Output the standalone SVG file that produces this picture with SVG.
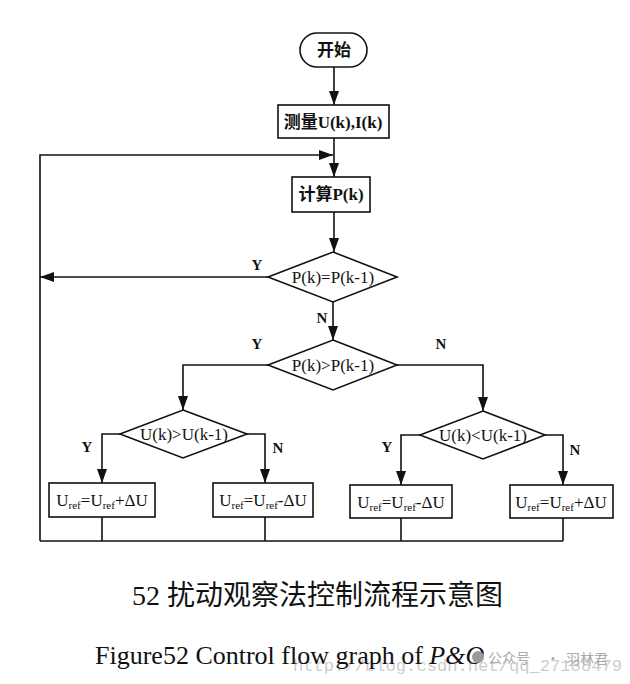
<svg xmlns="http://www.w3.org/2000/svg" width="630" height="684" viewBox="0 0 630 684">
<style>
.shape{fill:#fff;stroke:#111;stroke-width:1.6}
.conn{fill:none;stroke:#111;stroke-width:1.6}
.t{font-family:"Liberation Serif","Noto Sans CJK SC",serif;font-size:17px;fill:#111;text-anchor:middle}
.b{font-weight:bold}
.lbl{font-family:"Liberation Serif",serif;font-size:15px;font-weight:bold;fill:#111;text-anchor:middle}
.wm{font-family:"Liberation Mono","Noto Sans CJK SC",monospace;font-size:16px;fill:#cdcdcd}
.wmc{font-family:"Noto Sans CJK SC",sans-serif;font-size:14px;fill:#aaa}
</style>
<defs>
<marker id="ah" markerUnits="userSpaceOnUse" markerWidth="14" markerHeight="10" viewBox="0 0 14 10" refX="14" refY="5" orient="auto">
<path d="M0,0 L14,5 L0,10 Z" fill="#111"/>
</marker>
</defs>
<rect width="630" height="684" fill="#fff"/>

<g id="connectors">
<path class="conn" d="M334,67 V105" marker-end="url(#ah)"/>
<path class="conn" d="M334,138 V177" marker-end="url(#ah)"/>
<path class="conn" d="M40,541 V155 H333" marker-end="url(#ah)"/>
<path class="conn" d="M334,212 V252" marker-end="url(#ah)"/>
<path class="conn" d="M268,277 H40" marker-end="url(#ah)"/>
<path class="conn" d="M333,302 V340" marker-end="url(#ah)"/>
<path class="conn" d="M268,365 H183 V410" marker-end="url(#ah)"/>
<path class="conn" d="M397,365 H483 V411" marker-end="url(#ah)"/>
<path class="conn" d="M120,434 H102 V483" marker-end="url(#ah)"/>
<path class="conn" d="M247,434 H265 V483" marker-end="url(#ah)"/>
<path class="conn" d="M420,435 H401 V485" marker-end="url(#ah)"/>
<path class="conn" d="M545,435 H563 V485" marker-end="url(#ah)"/>
<path class="conn" d="M102,517 V541 M265,517 V541 M401,518 V541 M563,518 V541 M40,541 H563"/>
<text class="lbl" x="257" y="270">Y</text>
<text class="lbl" x="322" y="323">N</text>
<text class="lbl" x="257" y="349">Y</text>
<text class="lbl" x="441" y="349">N</text>
<text class="lbl" x="87" y="452">Y</text>
<text class="lbl" x="278" y="453">N</text>
<text class="lbl" x="387" y="452">Y</text>
<text class="lbl" x="575" y="455">N</text>
</g>

<g id="start">
<rect class="shape" x="300" y="33" width="67" height="34" rx="17" ry="17"/>
<text class="t b" x="334" y="56" font-size="15">开始</text>
</g>
<g id="measure">
<rect class="shape" x="278" y="105" width="111" height="33"/>
<text class="t b" x="333" y="128" font-size="15">测量U(k),I(k)</text>
</g>
<g id="calc">
<rect class="shape" x="292" y="177" width="78" height="35"/>
<text class="t b" x="331" y="200" font-size="15">计算P(k)</text>
</g>
<g id="d1">
<polygon class="shape" points="333,252 397,277 333,302 268,277"/>
<text class="t" x="333" y="283">P(k)=P(k-1)</text>
</g>
<g id="d2">
<polygon class="shape" points="333,340 397,365 333,390 268,365"/>
<text class="t" x="333" y="371">P(k)&gt;P(k-1)</text>
</g>
<g id="d3">
<polygon class="shape" points="183,410 247,434 183,458 120,434"/>
<text class="t" x="184" y="440">U(k)&gt;U(k-1)</text>
</g>
<g id="d4">
<polygon class="shape" points="483,411 545,435 483,459 420,435"/>
<text class="t" x="483" y="441">U(k)&lt;U(k-1)</text>
</g>
<g id="box3">
<rect class="shape" x="49" y="483" width="106" height="34"/>
<text class="t" x="102" y="506">U<tspan font-size="11" dy="3">ref</tspan><tspan dy="-3">=U</tspan><tspan font-size="11" dy="3">ref</tspan><tspan dy="-3">+ΔU</tspan></text>
</g>
<g id="box4">
<rect class="shape" x="213" y="483" width="100" height="34"/>
<text class="t" x="263" y="506">U<tspan font-size="11" dy="3">ref</tspan><tspan dy="-3">=U</tspan><tspan font-size="11" dy="3">ref</tspan><tspan dy="-3">-ΔU</tspan></text>
</g>
<g id="box5">
<rect class="shape" x="350" y="485" width="102" height="33"/>
<text class="t" x="401" y="508">U<tspan font-size="11" dy="3">ref</tspan><tspan dy="-3">=U</tspan><tspan font-size="11" dy="3">ref</tspan><tspan dy="-3">-ΔU</tspan></text>
</g>
<g id="box6">
<rect class="shape" x="510" y="485" width="103" height="33"/>
<text class="t" x="561" y="508">U<tspan font-size="11" dy="3">ref</tspan><tspan dy="-3">=U</tspan><tspan font-size="11" dy="3">ref</tspan><tspan dy="-3">+ΔU</tspan></text>
</g>

<g id="captions">
<text x="132" y="605" font-family="'Liberation Serif','Noto Sans CJK SC',serif" font-size="28" fill="#111">52 扰动观察法控制流程示意图</text>
<text class="wm" x="293" y="671" textLength="329" lengthAdjust="spacingAndGlyphs">http://blog.csdn.net/qq_27188479</text>
<text x="95" y="664" font-family="'Liberation Serif',serif" font-size="26" fill="#111">Figure52 Control flow graph of  <tspan font-style="italic">P&amp;O</tspan></text>
<circle cx="478" cy="657" r="6" fill="#999"/>
<text class="wmc" x="488" y="663">公众号</text>
<text class="wmc" x="546" y="663">·</text>
<text class="wmc" x="566" y="664" font-size="15">羽林君</text>
</g>
</svg>
